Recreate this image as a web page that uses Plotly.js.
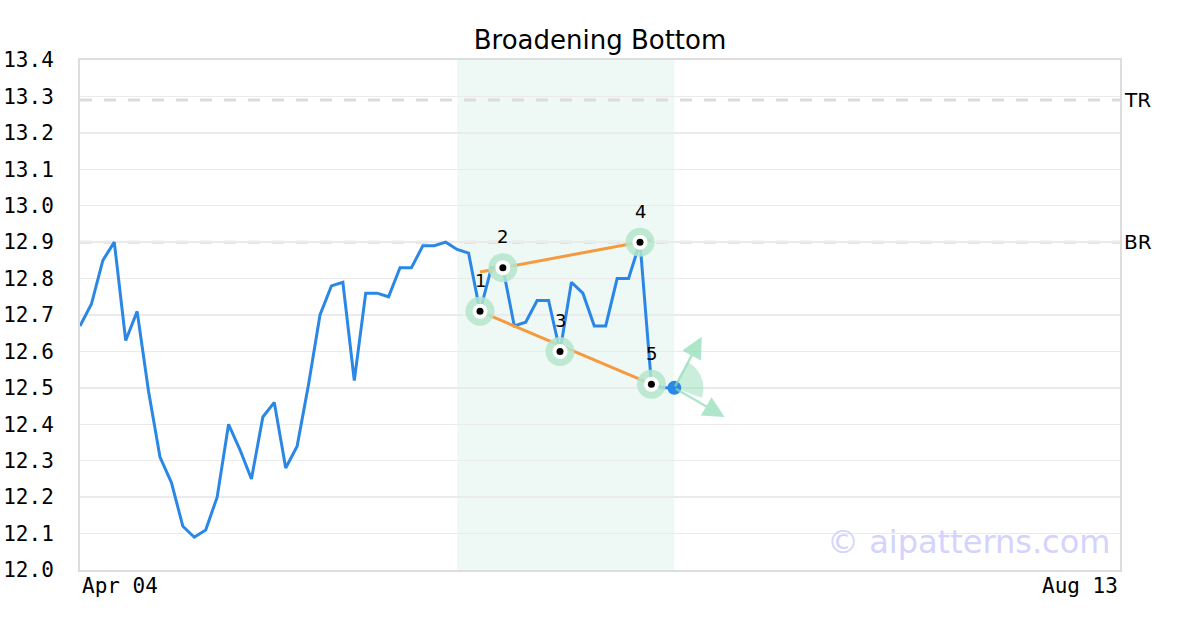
<!DOCTYPE html>
<html>
<head>
<meta charset="utf-8">
<script src="https://cdn.plot.ly/plotly-3.0.1.min.js"></script>
<style>html,body{margin:0;padding:0;background:#fff;}#chart{width:1200px;height:630px;}</style>
</head>
<body>
<div id="chart"></div>
<script>
// ---- data ----
const prices = [12.67, 12.73, 12.85, 12.90, 12.63, 12.71, 12.49, 12.31, 12.24, 12.12,
                12.09, 12.11, 12.20, 12.40, 12.33, 12.25, 12.42, 12.46, 12.28, 12.34,
                12.51, 12.70, 12.78, 12.79, 12.52, 12.76, 12.76, 12.75, 12.83, 12.83,
                12.89, 12.89, 12.90, 12.88, 12.87, 12.71, 12.83, 12.83, 12.67, 12.68,
                12.74, 12.74, 12.60, 12.79, 12.76, 12.67, 12.67, 12.80, 12.80, 12.90,
                12.51, 12.50, 12.50];
const xIndex = prices.map((_, i) => i);
const xMax = 91;                        // Apr 04 .. Aug 13 span in bars
const tickLabels = ['Apr 04', 'Aug 13'];
const pivotIdx = [35, 37, 42, 49, 50];
const pivotLabels = ['1', '2', '3', '4', '5'];
const upperX = [35, 50];
const upperY = [12.818, 12.906];
const lowerX = [35, 50];
const lowerY = [12.71, 12.51];
const patternStart = 33, patternEnd = 52;
const levelNames = ['TR', 'BR'];
const levelValues = [13.29, 12.90];
const arrowTipsX = [54.4, 56.4];
const arrowTipsY = [12.64, 12.42];

// ---- build ----
const pivotY = pivotIdx.map(i => prices[i]);
const lastI = prices.length - 1;
const font = 'DejaVu Sans, sans-serif';
const mono = 'DejaVu Sans Mono, monospace';

const traces = [
  {x: xIndex, y: prices, mode: 'lines', line: {color: '#2b87e6', width: 3}, hoverinfo: 'skip'},
  {x: upperX, y: upperY, mode: 'lines', line: {color: '#f59a3e', width: 3}, hoverinfo: 'skip'},
  {x: lowerX, y: lowerY, mode: 'lines', line: {color: '#f59a3e', width: 3}, hoverinfo: 'skip'},
  {x: pivotIdx, y: pivotY, mode: 'markers', marker: {size: 29, color: 'rgba(180,230,205,0.85)'}, hoverinfo: 'skip'},
  {x: pivotIdx, y: pivotY, mode: 'markers', marker: {size: 15, color: '#ffffff'}, hoverinfo: 'skip'},
  {x: pivotIdx, y: pivotY, mode: 'markers', marker: {size: 7, color: '#000000'}, hoverinfo: 'skip'},
  {x: [xIndex[lastI]], y: [prices[lastI]], mode: 'markers', marker: {size: 14, color: '#2b87e6'}, hoverinfo: 'skip'}
];

// wedge path (pixel offsets around last point)
const r = 29, a0 = 61, a1 = -20;
let wp = 'M0,0';
for (let k = 0; k <= 24; k++) {
  const a = (a0 + (a1 - a0) * k / 24) * Math.PI / 180;
  wp += ' L' + (r * Math.cos(a)).toFixed(2) + ',' + (r * Math.sin(a)).toFixed(2);
}
wp += ' Z';

const shapes = [
  {type: 'rect', xref: 'x', yref: 'paper', x0: patternStart, x1: patternEnd, y0: 0, y1: 1,
   fillcolor: '#eef8f4', line: {width: 0}, layer: 'below'},
  ...levelValues.map(v => ({type: 'line', xref: 'paper', yref: 'y', x0: 0, x1: 1, y0: v, y1: v,
   line: {color: '#dcdcdc', width: 3, dash: '12px,12px'}, layer: 'below'})),
  {type: 'path', xref: 'x', yref: 'y', xsizemode: 'pixel', ysizemode: 'pixel',
   xanchor: xIndex[lastI], yanchor: prices[lastI], path: wp,
   fillcolor: 'rgba(150,222,185,0.5)', line: {width: 0}, layer: 'between'}
];

const annotations = [
  ...pivotIdx.map((i, k) => ({x: i, y: prices[i], text: pivotLabels[k], showarrow: false,
    yshift: 31, font: {family: font, size: 18, color: '#000'}})),
  ...levelNames.map((n, k) => ({xref: 'paper', yref: 'y', x: 1, y: levelValues[k], text: n,
    showarrow: false, xanchor: 'left', xshift: 2, font: {family: font, size: 20, color: '#000'}})),
  {xref: 'paper', yref: 'paper', x: 0, y: 0, xanchor: 'left', yanchor: 'top', yshift: -2,
   text: tickLabels[0], showarrow: false, font: {family: mono, size: 21, color: '#000'}},
  {xref: 'paper', yref: 'paper', x: 1, y: 0, xanchor: 'right', yanchor: 'top', yshift: -2,
   text: tickLabels[1], showarrow: false, font: {family: mono, size: 21, color: '#000'}},
  {xref: 'paper', yref: 'paper', x: 1, y: 0.055, xanchor: 'right', yanchor: 'middle', xshift: -8,
   text: '© aipatterns.com', showarrow: false, font: {family: font, size: 32, color: '#d3d3fd'}},
  ...arrowTipsX.map((tx, k) => ({x: tx, y: arrowTipsY[k], axref: 'x', ayref: 'y',
    ax: xIndex[lastI], ay: prices[lastI], text: '', showarrow: true, arrowhead: 2, arrowsize: 1.7,
    arrowwidth: 2.5, arrowcolor: 'rgba(140,220,180,0.7)'}))
];

const layout = {
  width: 1200, height: 630,
  margin: {l: 80, r: 80, t: 60, b: 60},
  paper_bgcolor: '#fff', plot_bgcolor: '#fff',
  showlegend: false,
  title: {text: 'Broadening Bottom', x: 0.5, xanchor: 'center', y: 1 - 40 / 630, yanchor: 'middle',
          font: {family: font, size: 26, color: '#000'}},
  xaxis: {range: [0, xMax], showgrid: false, zeroline: false, showticklabels: false, ticks: '',
          showline: true, linecolor: '#dddddd', linewidth: 2, mirror: true, fixedrange: true},
  yaxis: {range: [12.0, 13.4], dtick: 0.1, tick0: 12.0, tickformat: '.1f', showgrid: true,
          gridcolor: '#ebebeb', gridwidth: 1.5, zeroline: false, ticks: 'outside', ticklen: 20,
          tickcolor: 'rgba(0,0,0,0)', tickfont: {family: mono, size: 21, color: '#000'},
          showline: true, linecolor: '#dddddd', linewidth: 2, mirror: true, fixedrange: true},
  shapes: shapes,
  annotations: annotations
};

Plotly.newPlot('chart', traces, layout, {displayModeBar: false, staticPlot: true});
</script>
</body>
</html>
